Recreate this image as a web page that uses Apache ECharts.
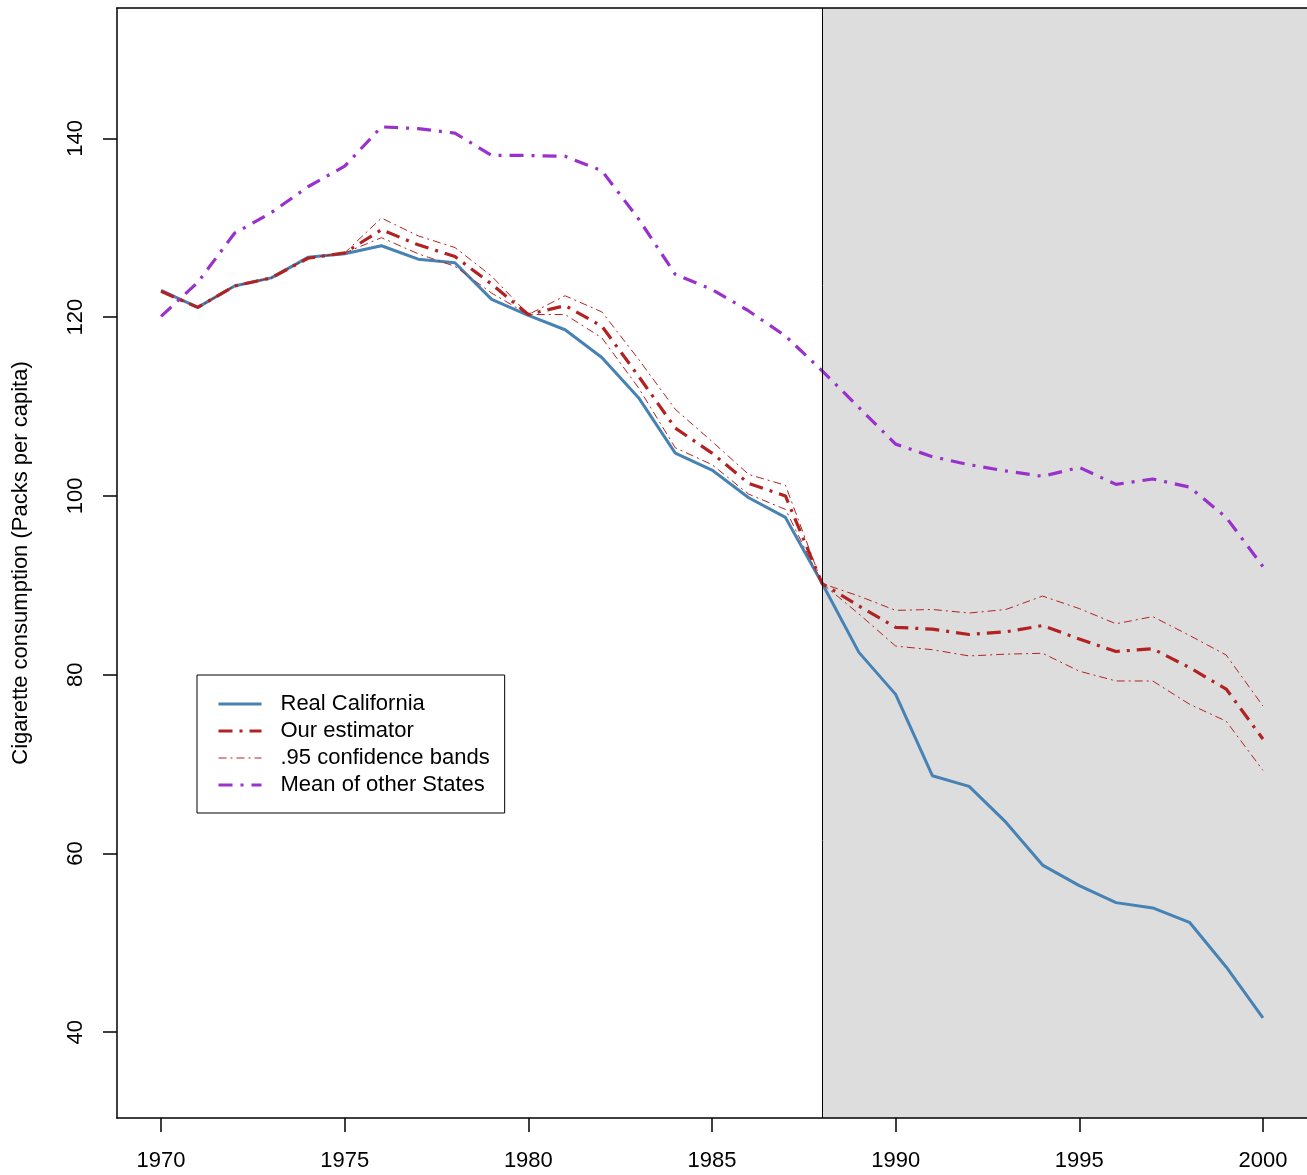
<!DOCTYPE html>
<html>
<head>
<meta charset="utf-8">
<script src="https://cdn.jsdelivr.net/npm/echarts@6/dist/echarts.min.js"></script>
<style>html,body{margin:0;padding:0;background:#fff}#c{width:1307px;height:1175px}</style>
</head>
<body>
<div id="c"></div>
<script>
const years = [1970,1971,1972,1973,1974,1975,1976,1977,1978,1979,1980,1981,1982,1983,1984,1985,1986,1987,1988,1989,1990,1991,1992,1993,1994,1995,1996,1997,1998,1999,2000];
const realCalifornia = [123.0,121.1,123.5,124.4,126.7,127.1,128.0,126.5,126.1,122.0,120.2,118.6,115.5,111.0,104.8,102.9,99.8,97.6,90.2,82.5,77.8,68.7,67.5,63.5,58.7,56.4,54.5,53.9,52.3,47.3,41.6];
const ourEstimator = [122.9,121.1,123.5,124.4,126.6,127.2,129.8,128.1,126.8,123.7,120.3,121.3,119.0,113.4,107.6,104.8,101.4,100.0,90.2,87.7,85.3,85.1,84.5,84.8,85.5,84.0,82.6,82.9,80.8,78.4,72.8];
const upperBand = [122.9,121.1,123.5,124.4,126.6,127.2,131.1,129.1,127.8,124.6,120.3,122.4,120.6,115.3,109.7,106.1,102.4,101.2,90.2,88.8,87.2,87.3,86.9,87.3,88.8,87.4,85.7,86.5,84.4,82.2,76.5];
const lowerBand = [122.9,121.1,123.5,124.4,126.6,127.2,128.9,127.1,125.7,122.7,120.3,120.3,117.7,112.1,105.4,103.5,100.2,98.5,90.2,86.8,83.2,82.8,82.1,82.3,82.4,80.4,79.3,79.3,76.7,74.8,69.3];
const meanOtherStates = [120.1,123.9,129.4,131.7,134.6,136.9,141.3,141.1,140.6,138.1,138.1,138.0,136.4,131.0,124.8,123.1,120.7,117.9,114.0,109.9,105.8,104.4,103.5,102.8,102.2,103.2,101.3,101.9,101.0,97.6,92.1];
const xTicks = [1970,1975,1980,1985,1990,1995,2000];
const yTicks = [40,60,80,100,120,140];
const treatmentYear = 1988;
const names = ["Real California","Our estimator",".95 confidence bands","Mean of other States"];
const yTitle = "Cigarette consumption (Packs per capita)";

const xMin = 1968.8, xMax = 2001.2, yMin = 30.4, yMax = 154.6;
const FONT = '"Liberation Sans", Arial, Helvetica, sans-serif';
const pairs = arr => years.map((y,i)=>[y,arr[i]]);
const legendWidths = [3, 3, 1, 3];

const chart = echarts.init(document.getElementById('c'), null, {renderer:'canvas'});
chart.setOption({
  animation:false,
  backgroundColor:'#ffffff',
  textStyle:{fontFamily:FONT},
  grid:{left:117, top:8, right:0, bottom:57, containLabel:false},
  xAxis:[{
    type:'value', min:xMin, max:xMax, z:10,
    axisLine:{show:true, onZero:false, lineStyle:{color:'#000', width:1.5}},
    axisTick:{show:true, length:14, customValues:xTicks, lineStyle:{color:'#000', width:1.5}},
    axisLabel:{show:true, customValues:xTicks, margin:32, fontSize:22, color:'#000', fontFamily:FONT,
      formatter: v => String(v)},
    splitLine:{show:false}
  },{
    type:'value', min:xMin, max:xMax, position:'top', z:10,
    axisLine:{show:true, onZero:false, lineStyle:{color:'#000', width:1.5}},
    axisTick:{show:false}, axisLabel:{show:false}, splitLine:{show:false}
  }],
  yAxis:{
    type:'value', min:yMin, max:yMax, z:10,
    name:yTitle, nameLocation:'middle', nameRotate:90, nameGap:85,
    nameTextStyle:{fontSize:22, color:'#000', fontFamily:FONT},
    axisLine:{show:true, onZero:false, lineStyle:{color:'#000', width:1.5}},
    axisTick:{show:true, length:14, customValues:yTicks, lineStyle:{color:'#000', width:1.5}},
    axisLabel:{show:true, customValues:yTicks, rotate:90, margin:30, fontSize:22, color:'#000', fontFamily:FONT,
      formatter: v => String(v)},
    splitLine:{show:false}
  },
  legend:{
    data:names.map((n,i)=>({name:n, lineStyle:{width:legendWidths[i]}})),
    orient:'vertical', left:197, top:675,
    padding:[18,15,17,20], itemGap:5, itemWidth:43, itemHeight:14,
    backgroundColor:'#fff', borderColor:'#000', borderWidth:1, borderRadius:0,
    itemStyle:{opacity:0},
    textStyle:{fontSize:22, color:'#000', fontFamily:FONT, lineHeight:22, padding:[0,0,0,14]},
    selectedMode:false
  },
  series:[
    {
      name:'_shade', type:'line', data:[], z:1, silent:true,
      markArea:{silent:true, itemStyle:{color:'#DDDDDD', opacity:1}, label:{show:false},
        data:[[{xAxis:treatmentYear},{xAxis:xMax}]]},
      markLine:{silent:true, symbol:['none','none'], label:{show:false},
        lineStyle:{color:'#000', width:1, type:'solid'},
        data:[{xAxis:treatmentYear}]}
    },
    {name:names[0], type:'line', data:pairs(realCalifornia), symbol:'none', z:3,
      lineStyle:{color:'#4682B4', width:3, type:'solid'}, itemStyle:{color:'#4682B4'}},
    {name:names[1], type:'line', data:pairs(ourEstimator), symbol:'none', z:3,
      lineStyle:{color:'#B22222', width:3.2, type:[14,7,3,7]}, itemStyle:{color:'#B22222'}},
    {name:names[2], type:'line', data:pairs(upperBand), symbol:'none', z:3,
      lineStyle:{color:'#B22222', width:1, type:[8,4,2,4]}, itemStyle:{color:'#B22222'}},
    {name:names[2], type:'line', data:pairs(lowerBand), symbol:'none', z:3,
      lineStyle:{color:'#B22222', width:1, type:[8,4,2,4]}, itemStyle:{color:'#B22222'}},
    {name:names[3], type:'line', data:pairs(meanOtherStates), symbol:'none', z:3,
      lineStyle:{color:'#9932CC', width:3.2, type:[14,8,3,8]}, itemStyle:{color:'#9932CC'}}
  ]
});
</script>
</body>
</html>
